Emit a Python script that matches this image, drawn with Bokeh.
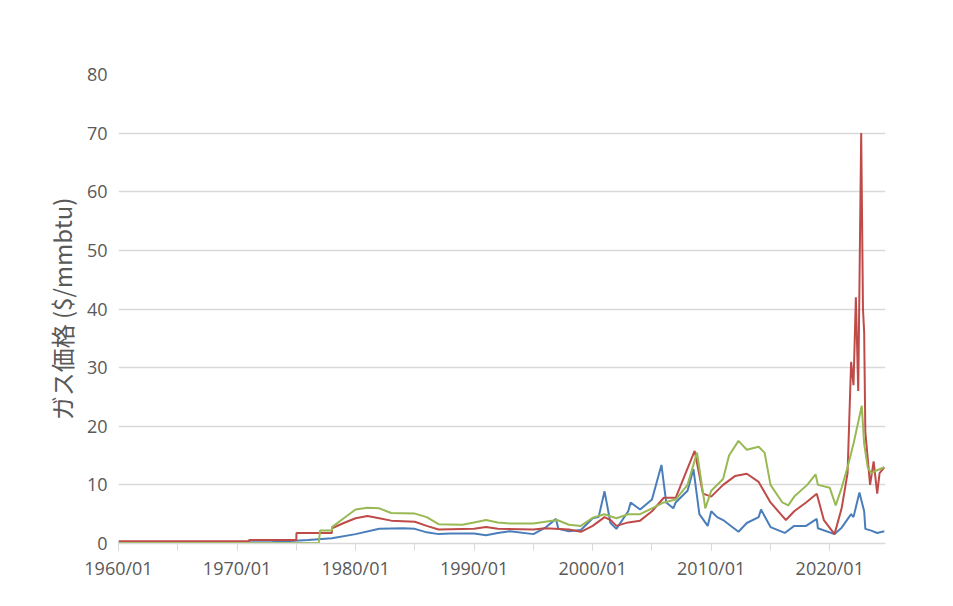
from bokeh.plotting import figure
from bokeh.models import FixedTicker, Legend, LegendItem, Label
from bokeh.embed import file_html
from bokeh.resources import INLINE

# decimal years and prices ($/mmbtu)
us_t = [1960, 1965, 1970, 1973, 1976, 1978, 1980, 1982, 1984, 1985, 1986, 1987, 1988, 1990, 1991, 1992,
        1993, 1995, 1996, 1996.9, 1997.1, 1998, 1999, 2000, 2000.5, 2001.0, 2001.5, 2002, 2003, 2003.2, 2004,
        2005, 2005.8, 2006.2, 2006.8, 2007, 2008, 2008.5, 2009, 2009.7, 2010, 2010.5, 2011, 2012.3,
        2013, 2014, 2014.2, 2015, 2016.2, 2017, 2018, 2018.9, 2019, 2020.4, 2021, 2021.8, 2022,
        2022.5, 2022.9, 2023, 2023.5, 2024, 2024.6]
us_v = [0.15, 0.17, 0.2, 0.25, 0.6, 0.9, 1.6, 2.5, 2.6, 2.5, 1.9, 1.6, 1.7, 1.7, 1.4, 1.8,
        2.1, 1.6, 2.7, 4.2, 2.5, 2.1, 2.3, 4.3, 4.5, 8.9, 3.5, 2.5, 5.5, 7.0, 5.8,
        7.5, 13.4, 7.0, 6.0, 7.0, 9.0, 12.7, 5.0, 3.0, 5.5, 4.5, 4.0, 2.0,
        3.5, 4.5, 5.8, 2.8, 1.8, 3.0, 3.0, 4.2, 2.6, 1.6, 2.7, 5.0, 4.5,
        8.7, 5.5, 2.5, 2.2, 1.8, 2.1]

eu_t = [1960, 1971, 1971.01, 1975, 1975.01, 1978, 1978.01, 1979, 1980, 1981, 1982, 1983, 1985, 1986, 1987,
        1990, 1991, 1992, 1995, 1996, 1998, 1999, 2000, 2001, 2001.5, 2002, 2003, 2004, 2005, 2006,
        2007, 2008.6, 2009.3, 2010, 2011, 2012, 2013, 2014, 2015, 2016.3, 2017, 2018, 2018.9,
        2019.5, 2020.4, 2021, 2021.5, 2021.8, 2022.0, 2022.2, 2022.4, 2022.65, 2022.8, 2022.9, 2023,
        2023.4, 2023.7, 2024, 2024.2, 2024.6]
eu_v = [0.4, 0.4, 0.6, 0.6, 1.8, 1.8, 2.6, 3.5, 4.3, 4.7, 4.3, 3.9, 3.7, 3.0, 2.4,
        2.5, 2.8, 2.5, 2.4, 2.6, 2.4, 2.0, 3.0, 4.5, 4.0, 3.0, 3.6, 3.9, 5.5, 7.8,
        7.8, 15.8, 8.5, 8.0, 10.0, 11.5, 11.9, 10.5, 7.0, 4.0, 5.5, 7.0, 8.5,
        4.0, 1.6, 6.0, 12.0, 31.0, 27.0, 42.0, 26.0, 70.0, 40.0, 36.0, 19.0,
        10.0, 14.0, 8.5, 12.0, 13.0]

jp_t = [1960, 1976.9, 1977, 1978, 1978.01, 1979, 1980, 1981, 1982, 1983, 1985, 1986, 1987, 1989,
        1990, 1991, 1992, 1993, 1995, 1996, 1997, 1998, 1999, 2000, 2001, 2002, 2003, 2004, 2005,
        2006, 2007, 2008, 2008.8, 2009.5, 2010, 2011, 2011.5, 2012.3, 2013, 2014, 2014.5, 2015,
        2016, 2016.5, 2017, 2018.1, 2018.8, 2019, 2020, 2020.5, 2021, 2021.5, 2022, 2022.7,
        2022.9, 2023.2, 2023.5, 2024, 2024.6]
jp_v = [0.1, 0.1, 2.2, 2.2, 2.8, 4.3, 5.8, 6.1, 6.0, 5.2, 5.1, 4.5, 3.3, 3.2,
        3.6, 4.0, 3.6, 3.4, 3.4, 3.7, 4.0, 3.2, 3.0, 4.4, 5.0, 4.3, 5.0, 5.0, 6.0,
        7.0, 7.5, 10.0, 15.5, 6.0, 9.0, 11.0, 15.0, 17.5, 16.0, 16.5, 15.5, 10.0,
        7.0, 6.5, 8.0, 10.0, 11.8, 10.0, 9.5, 6.5, 9.5, 13.0, 17.0, 23.5,
        17.0, 13.0, 12.0, 12.5, 13.0]

major_years = [1960, 1970, 1980, 1990, 2000, 2010, 2020]
minor_years = [1965, 1975, 1985, 1995, 2005, 2015]
y_ticks = [0, 10, 20, 30, 40, 50, 60, 70, 80]

p = figure(width=937, height=590, output_backend="svg", toolbar_location=None,
           x_range=(1960, 2024.7), y_range=(0, 80),
           min_border_left=118, min_border_right=52, min_border_top=74, min_border_bottom=47)
p.outline_line_color = None
p.border_fill_color = "white"

l_us = p.line(us_t, us_v, line_color="#4a7ebb", line_width=2)
l_eu = p.line(eu_t, eu_v, line_color="#be4b48", line_width=2)
l_jp = p.line(jp_t, jp_v, line_color="#98b954", line_width=2)

p.xaxis.ticker = FixedTicker(ticks=major_years, minor_ticks=minor_years + major_years)
p.xaxis.major_label_overrides = {y: f"{y}/01" for y in major_years}
p.yaxis.ticker = FixedTicker(ticks=y_ticks)
p.xgrid.visible = False
p.ygrid.grid_line_color = "#d9d9d9"
p.ygrid.grid_line_width = 1.5
p.xaxis.axis_line_color = "#d9d9d9"
p.xaxis.axis_line_width = 1.5
p.xaxis.major_tick_line_color = "#d9d9d9"
p.xaxis.minor_tick_line_color = "#d9d9d9"
p.xaxis.major_tick_in = 0
p.xaxis.major_tick_out = 7
p.xaxis.minor_tick_in = 0
p.xaxis.minor_tick_out = 7
p.yaxis.axis_line_color = None
p.yaxis.major_tick_line_color = None
p.yaxis.minor_tick_line_color = None
for ax in (p.xaxis, p.yaxis):
    ax.major_label_text_font = "Open Sans"
    ax.major_label_text_font_size = "18px"
    ax.major_label_text_color = "#595959"
p.yaxis.axis_label = "ガス価格 ($/mmbtu)"
p.yaxis.axis_label_text_font = "Noto Sans CJK JP"
p.yaxis.axis_label_text_font_size = "24px"
p.yaxis.axis_label_text_font_style = "normal"
p.yaxis.axis_label_text_color = "#595959"

legend = Legend(items=[LegendItem(label="Naturalgas_US", renderers=[l_us]),
                       LegendItem(label="Naturalgas_Europe", renderers=[l_eu]),
                       LegendItem(label="Liquefiednaturalgas_Japan", renderers=[l_jp])],
                location=(236, 478), ncols=2, spacing=0, glyph_width=40,
                label_text_font="Open Sans", label_text_font_size="15px",
                label_text_color="#595959", background_fill_alpha=0,
                border_line_color=None, label_width=250, label_standoff=3)
p.add_layout(legend, "center")

p.add_layout(Label(x=-44, y=490, x_units="screen", y_units="screen", text="NaturalGas",
                   text_font="Open Sans", text_font_size="22px", text_color="#404040"))

open("out.html", "w").write(file_html(p, INLINE))
